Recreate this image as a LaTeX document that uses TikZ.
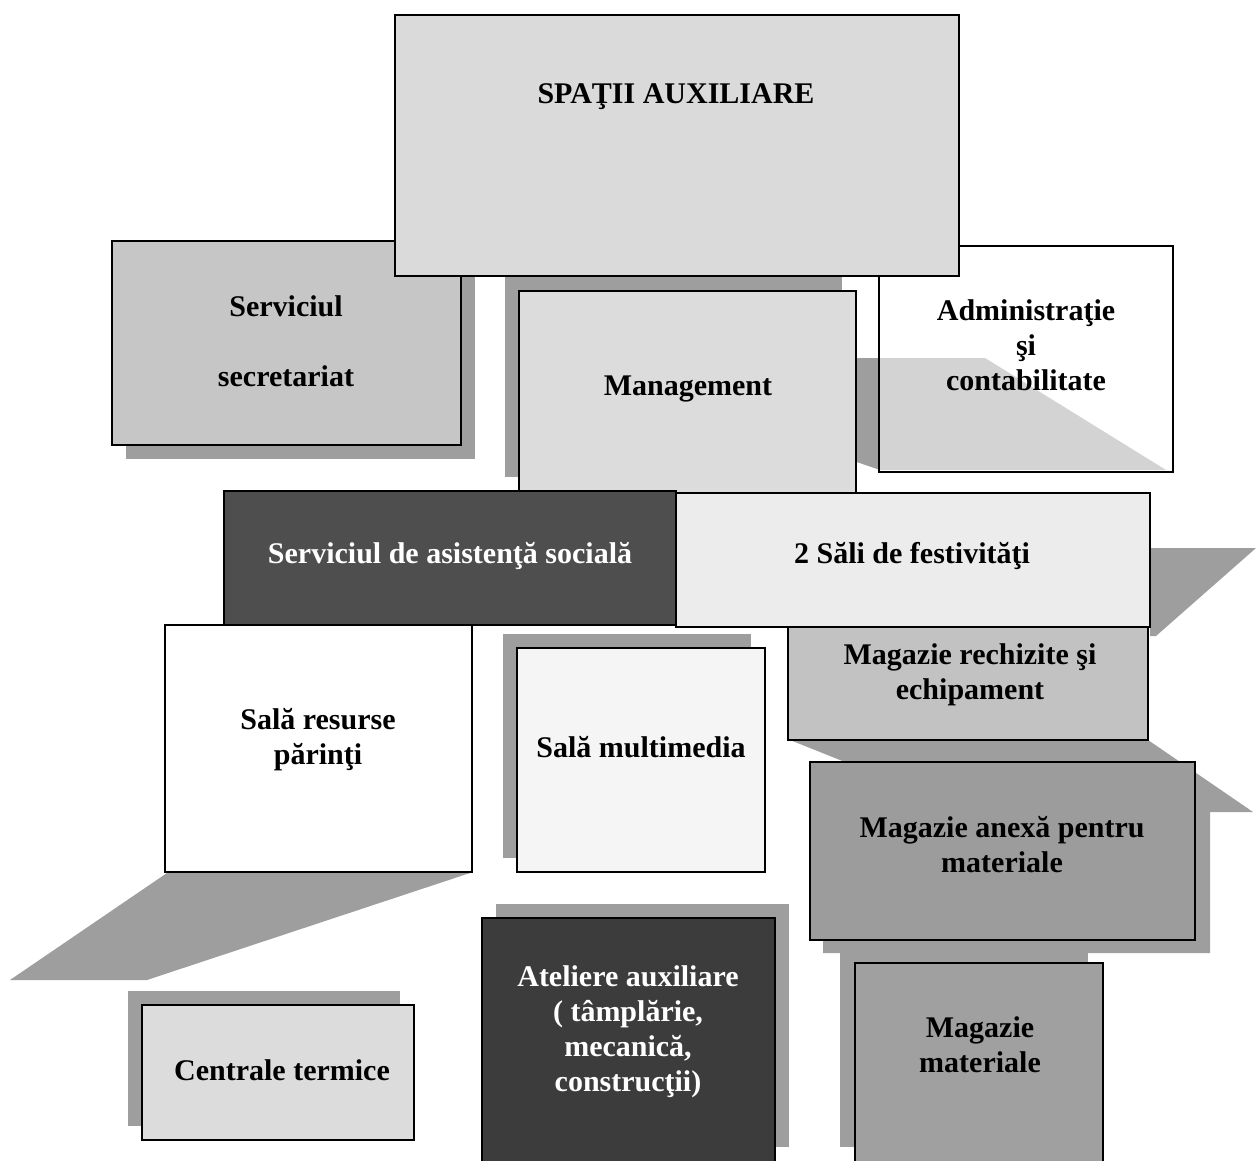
\documentclass[tikz,border=0pt]{standalone}
\usepackage{fontspec}
\setmainfont{Liberation Serif}
\definecolor{shd}{HTML}{9E9E9E}
\definecolor{cTop}{HTML}{DADADA}
\definecolor{cSec}{HTML}{C6C6C6}
\definecolor{cMan}{HTML}{DCDCDC}
\definecolor{cAsi}{HTML}{4E4E4E}
\definecolor{cSal}{HTML}{ECECEC}
\definecolor{cRec}{HTML}{C2C2C2}
\definecolor{cAnx}{HTML}{9C9C9C}
\definecolor{cMat}{HTML}{A0A0A0}
\definecolor{cMul}{HTML}{F5F5F5}
\definecolor{cCen}{HTML}{DCDCDC}
\definecolor{cAte}{HTML}{3C3C3C}
\tikzset{
  box/.style={draw=black, line width=1.4pt, anchor=north west, inner sep=0pt, outer sep=0pt},
  lbl/.style={font=\fontsize{30}{35}\selectfont\bfseries, align=center, text=black, inner sep=0pt},
  wlbl/.style={lbl, text=white},
  shadowfill/.style={fill=shd, draw=none},
}
\begin{document}
\begin{tikzpicture}[x=1pt,y=-1pt]
\useasboundingbox (0,0) rectangle (1256,1161);
\fill[white] (0,0) rectangle (1256,1161);

% Serviciul secretariat
\fill[shadowfill] (126,255) rectangle (475,459);
\node[box, fill=cSec, minimum width=349, minimum height=204] (sec) at (112,241) {};
\node[lbl] (sect) at (286,341) {Serviciul\\[35pt]secretariat};

% Administratie si contabilitate
\fill[shadowfill] (845,358) -- (985,358) -- (1166,470) -- (880,470) -- (845,458) -- cycle;
\node[box, fill=white, fill opacity=0.55, text opacity=1, minimum width=294, minimum height=226] (adm) at (879,246) {};
\node[lbl] (admt) at (1026,345) {Administraţie\\şi\\contabilitate};

% Management
\fill[shadowfill] (505,277) rectangle (842,477);
\node[box, fill=cMan, minimum width=337, minimum height=202] (man) at (519,291) {};
\node[lbl] (mant) at (688,389) {Management};

% Spatii auxiliare
\node[box, fill=cTop, minimum width=564, minimum height=261] (top) at (395,15) {};
\node[lbl] (topt) at (676,97) {SPAŢII AUXILIARE};

% 2 Sali de festivitati
\fill[shadowfill] (1150,548) -- (1256,548) -- (1156,636) -- (1150,636) -- cycle;
\node[box, fill=cAsi, minimum width=452, minimum height=134] (asi) at (224,491) {};
\node[wlbl] (asit) at (450,556) {Serviciul de asistenţă socială};
\node[box, fill=cSal, minimum width=474, minimum height=134] (sal) at (676,493) {};
\node[lbl] (salt) at (912,556) {2 Săli de festivităţi};

% Magazie rechizite / anexa
\fill[shadowfill] (790,740) -- (1148,740) -- (1253,812) -- (1210,812) -- (1210,953)
  -- (823,953) -- (823,940) -- (850,764) -- cycle;
\node[box, fill=cRec, minimum width=360, minimum height=113] (rec) at (788,627) {};
\node[lbl] (rect) at (970,675) {Magazie rechizite şi\\echipament};
\node[box, fill=cAnx, minimum width=385, minimum height=178] (anx) at (810,762) {};
\node[lbl] (anxt) at (1002,845) {Magazie anexă pentru\\materiale};

% Magazie materiale
\fill[shadowfill] (840,953) rectangle (1088,1147);
\node[box, fill=cMat, minimum width=248, minimum height=205] (mat) at (855,963) {};
\node[lbl] (matt) at (980,1045) {Magazie\\materiale};

% Sala resurse parinti
\fill[shadowfill] (167,873) -- (470,873) -- (147,980) -- (10,980) -- cycle;
\node[box, fill=white, minimum width=307, minimum height=247] (res) at (165,625) {};
\node[lbl] (rest) at (318,740) {Sală resurse\\părinţi};

% Sala multimedia
\fill[shadowfill] (503,634) rectangle (751,858);
\node[box, fill=cMul, minimum width=248, minimum height=224] (mul) at (517,648) {};
\node[lbl] (mult) at (641,747) {Sală multimedia};

% Centrale termice
\fill[shadowfill] (128,991) rectangle (400,1126);
\node[box, fill=cCen, minimum width=272, minimum height=135] (cen) at (142,1005) {};
\node[lbl] (cent) at (282,1070) {Centrale termice};

% Ateliere auxiliare
\fill[shadowfill] (496,904) rectangle (789,1147);
\node[box, fill=cAte, minimum width=293, minimum height=250] (ate) at (482,918) {};
\node[wlbl] (atet) at (628,1032) {Ateliere auxiliare\\( tâmplărie,\\mecanică,\\construcţii)};
\end{tikzpicture}
\end{document}
